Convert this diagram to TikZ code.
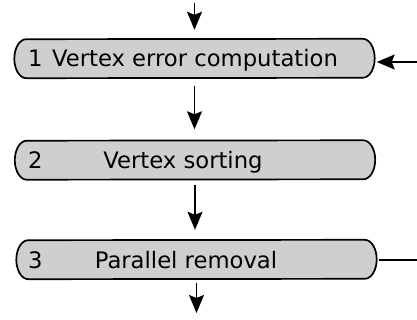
\documentclass[tikz,border=0pt]{standalone}
\usepackage{fontspec}
\setmainfont{DejaVu Sans}
\usetikzlibrary{arrows.meta}

\definecolor{boxgray}{gray}{0.81}

\tikzset{
  stagebox/.style={minimum width=360pt, minimum height=39pt, inner sep=0pt},
  stageline/.style={draw=black, line width=1.7pt, fill=boxgray},
  stagetext/.style={inner sep=0pt, font=\fontsize{22.7pt}{27pt}\selectfont},
  flow/.style={-{Stealth[length=18pt,width=15pt,inset=3pt]}, line width=1.5pt},
}

\begin{document}
\begin{tikzpicture}[x=1pt,y=-1pt]
    \useasboundingbox (0,0) rectangle (417,320);

    % Boxes
    \node[stagebox] (b1) at (194.5,58.5) {};
    \node[stagebox] (b2) at (195,160) {};
    \node[stagebox] (b3) at (196.5,259.5) {};

    % Rounded outlines
    \foreach \bx in {b1,b2,b3}
        \draw[stageline] ([xshift=-12pt]\bx.north east)
            arc[start angle=90, end angle=-90, x radius=12pt, y radius=19.5pt]
            -- ([xshift=12pt]\bx.south west)
            arc[start angle=270, end angle=90, x radius=12pt, y radius=19.5pt]
            -- cycle;

    % Labels
    \node[stagetext, anchor=base west] (n1) at (28,66.5) {1};
    \node[stagetext, anchor=base] (t1) at (195,66.5) {Vertex error computation};
    \node[stagetext, anchor=base west] (n2) at (28,168.3) {2};
    \node[stagetext, anchor=base] (t2) at (183,168.3) {Vertex sorting};
    \node[stagetext, anchor=base west] (n3) at (28,268.3) {3};
    \node[stagetext, anchor=base] (t3) at (186,268.3) {Parallel removal};

    % Free ends
    \coordinate (in1) at (194.5,3);
    \coordinate (out3) at (196.5,313);
    \coordinate (back1) at (417,62);
    \coordinate (back3) at (417,260);

    % Flow
    \draw[flow, shorten >=9pt] (in1) -- (b1.north);
    \draw[flow, shorten <=8pt, shorten >=11pt] (b1.south) -- (b1.south |- b2.north);
    \draw[flow, shorten <=5pt, shorten >=10pt] (b2.south) -- (b2.south |- b3.north);
    \draw[flow, shorten <=3.5pt] (b3.south) -- (out3);
    \draw[flow, shorten >=2pt] (back1) -- (back1 -| b1.east);
    \draw[line width=1.5pt, shorten <=2pt] (back3 -| b3.east) -- (back3);
\end{tikzpicture}
\end{document}
